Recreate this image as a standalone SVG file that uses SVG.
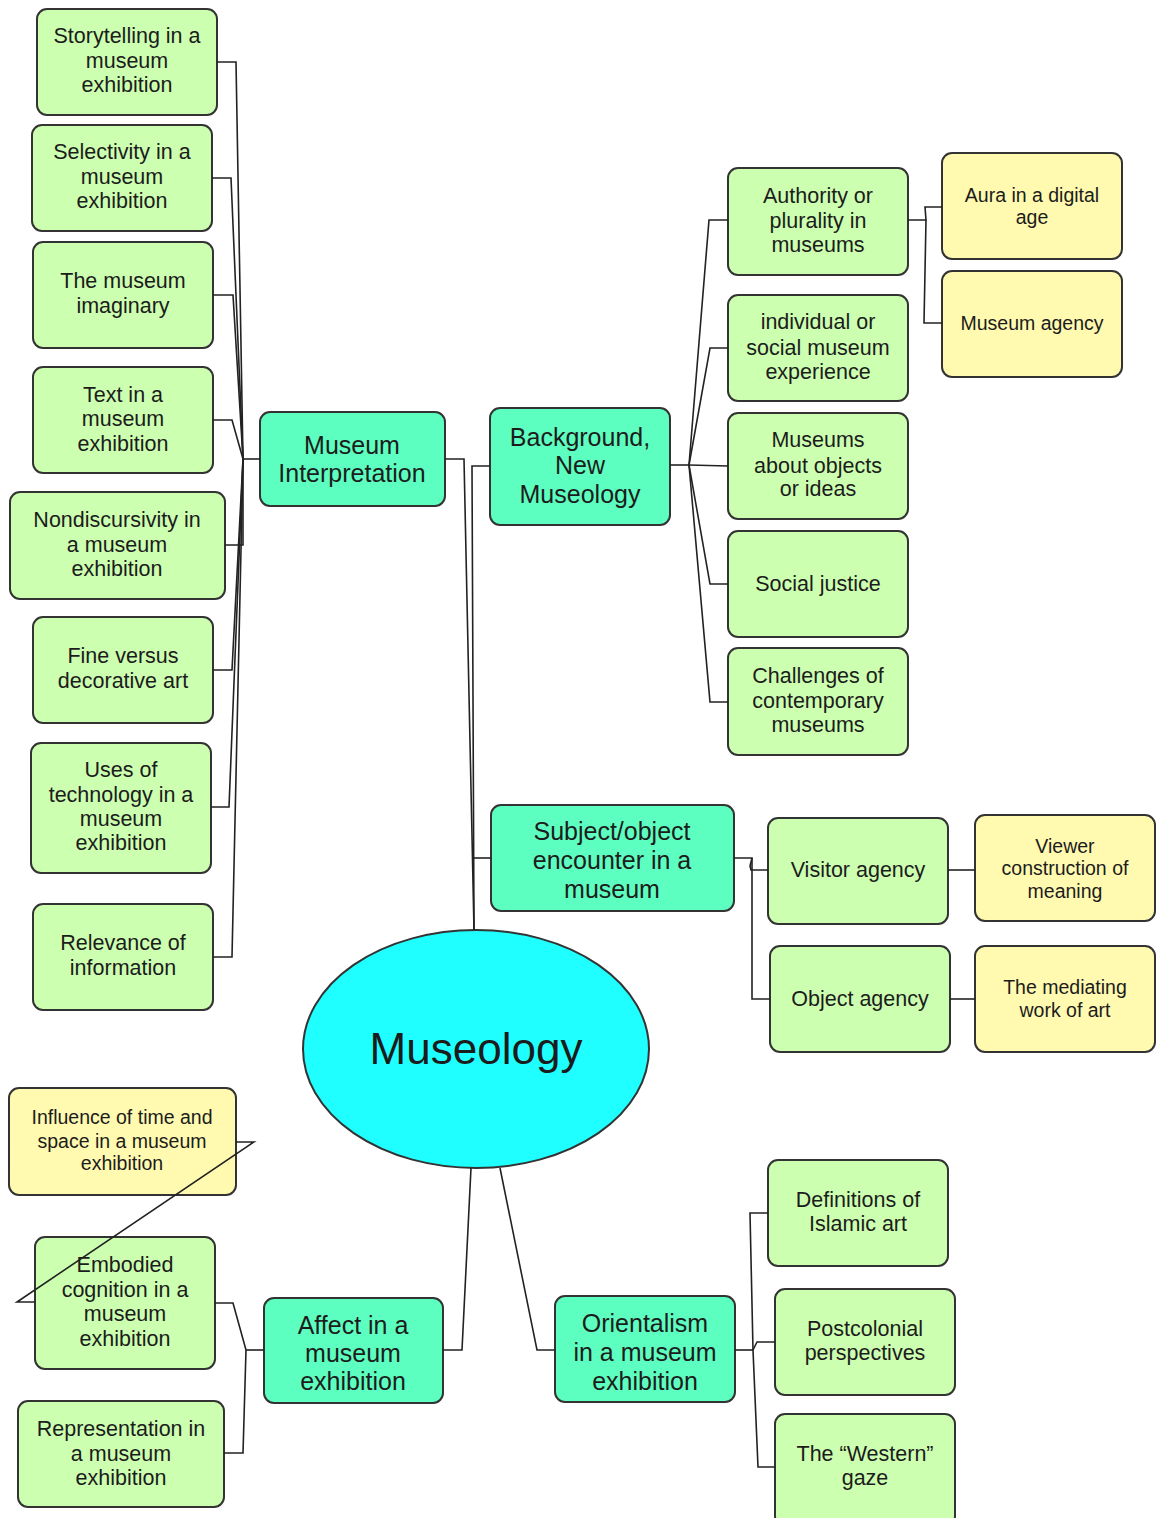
<svg xmlns="http://www.w3.org/2000/svg" width="1157" height="1518" viewBox="0 0 1157 1518">
  <style>
    .sub rect { fill: #ccffb0; stroke: #333; stroke-width: 2; }
    .topic rect { fill: #5cffbf; stroke: #333; stroke-width: 2; }
    .leaf rect { fill: #fffab0; stroke: #333; stroke-width: 2; }
    text { font-family: "Liberation Sans", Arial, Helvetica, sans-serif; fill: #1c1c1c; text-anchor: middle; }
    .sub text { font-size: 21.5px; }
    .leaf text { font-size: 19.5px; }
    .topic text { font-size: 25px; }
    .links polyline { fill: none; stroke: #222; stroke-width: 1.6; stroke-linejoin: miter; }
  </style>

  <!-- centre -->
  <g id="museology">
    <ellipse cx="476" cy="1049" rx="173" ry="119" fill="#1fffff" stroke="#333" stroke-width="2"/>
    <text x="476" y="1064" font-size="44">Museology</text>
  </g>

  <!-- Museum Interpretation branch -->
  <g id="museum-interpretation" class="topic">
    <rect x="260" y="412" width="185" height="94" rx="10"/>
    <text x="352"><tspan x="352" y="454">Museum</tspan><tspan x="352" y="482">Interpretation</tspan></text>
  </g>
  <g id="storytelling" class="sub">
    <rect x="37" y="9" width="180" height="106" rx="10"/>
    <text><tspan x="127" y="43">Storytelling in a</tspan><tspan x="127" y="68">museum</tspan><tspan x="127" y="92">exhibition</tspan></text>
  </g>
  <g id="selectivity" class="sub">
    <rect x="32" y="125" width="180" height="106" rx="10"/>
    <text><tspan x="122" y="159">Selectivity in a</tspan><tspan x="122" y="184">museum</tspan><tspan x="122" y="208">exhibition</tspan></text>
  </g>
  <g id="museum-imaginary" class="sub">
    <rect x="33" y="242" width="180" height="106" rx="10"/>
    <text><tspan x="123" y="288">The museum</tspan><tspan x="123" y="313">imaginary</tspan></text>
  </g>
  <g id="text-in-exhibition" class="sub">
    <rect x="33" y="367" width="180" height="106" rx="10"/>
    <text><tspan x="123" y="402">Text in a</tspan><tspan x="123" y="426">museum</tspan><tspan x="123" y="451">exhibition</tspan></text>
  </g>
  <g id="nondiscursivity" class="sub">
    <rect x="10" y="492" width="215" height="107" rx="10"/>
    <text><tspan x="117" y="527">Nondiscursivity in</tspan><tspan x="117" y="552">a museum</tspan><tspan x="117" y="576">exhibition</tspan></text>
  </g>
  <g id="fine-decorative" class="sub">
    <rect x="33" y="617" width="180" height="106" rx="10"/>
    <text><tspan x="123" y="663">Fine versus</tspan><tspan x="123" y="688">decorative art</tspan></text>
  </g>
  <g id="technology" class="sub">
    <rect x="31" y="743" width="180" height="130" rx="10"/>
    <text><tspan x="121" y="777">Uses of</tspan><tspan x="121" y="802">technology in a</tspan><tspan x="121" y="826">museum</tspan><tspan x="121" y="850">exhibition</tspan></text>
  </g>
  <g id="relevance" class="sub">
    <rect x="33" y="904" width="180" height="106" rx="10"/>
    <text><tspan x="123" y="950">Relevance of</tspan><tspan x="123" y="975">information</tspan></text>
  </g>

  <!-- Background, New Museology branch -->
  <g id="new-museology" class="topic">
    <rect x="490" y="408" width="180" height="117" rx="10"/>
    <text><tspan x="580" y="446">Background,</tspan><tspan x="580" y="474">New</tspan><tspan x="580" y="503">Museology</tspan></text>
  </g>
  <g id="authority" class="sub">
    <rect x="728" y="168" width="180" height="107" rx="10"/>
    <text><tspan x="818" y="203">Authority or</tspan><tspan x="818" y="228">plurality in</tspan><tspan x="818" y="252">museums</tspan></text>
  </g>
  <g id="experience" class="sub">
    <rect x="728" y="295" width="180" height="106" rx="10"/>
    <text><tspan x="818" y="329">individual or</tspan><tspan x="818" y="355">social museum</tspan><tspan x="818" y="379">experience</tspan></text>
  </g>
  <g id="objects-ideas" class="sub">
    <rect x="728" y="413" width="180" height="106" rx="10"/>
    <text><tspan x="818" y="447">Museums</tspan><tspan x="818" y="473">about objects</tspan><tspan x="818" y="496">or ideas</tspan></text>
  </g>
  <g id="social-justice" class="sub">
    <rect x="728" y="531" width="180" height="106" rx="10"/>
    <text x="818" y="591">Social justice</text>
  </g>
  <g id="challenges" class="sub">
    <rect x="728" y="648" width="180" height="107" rx="10"/>
    <text><tspan x="818" y="683">Challenges of</tspan><tspan x="818" y="708">contemporary</tspan><tspan x="818" y="732">museums</tspan></text>
  </g>
  <g id="aura" class="leaf">
    <rect x="942" y="153" width="180" height="106" rx="10"/>
    <text><tspan x="1032" y="202">Aura in a digital</tspan><tspan x="1032" y="224">age</tspan></text>
  </g>
  <g id="museum-agency" class="leaf">
    <rect x="942" y="271" width="180" height="106" rx="10"/>
    <text x="1032" y="330">Museum agency</text>
  </g>

  <!-- Subject/object branch -->
  <g id="subject-object" class="topic">
    <rect x="491" y="805" width="243" height="106" rx="10"/>
    <text><tspan x="612" y="840">Subject/object</tspan><tspan x="612" y="869">encounter in a</tspan><tspan x="612" y="898">museum</tspan></text>
  </g>
  <g id="visitor-agency" class="sub">
    <rect x="768" y="818" width="180" height="106" rx="10"/>
    <text x="858" y="877">Visitor agency</text>
  </g>
  <g id="object-agency" class="sub">
    <rect x="770" y="946" width="180" height="106" rx="10"/>
    <text x="860" y="1006">Object agency</text>
  </g>
  <g id="viewer-meaning" class="leaf">
    <rect x="975" y="815" width="180" height="106" rx="10"/>
    <text><tspan x="1065" y="853">Viewer</tspan><tspan x="1065" y="875">construction of</tspan><tspan x="1065" y="898">meaning</tspan></text>
  </g>
  <g id="mediating-work" class="leaf">
    <rect x="975" y="946" width="180" height="106" rx="10"/>
    <text><tspan x="1065" y="994">The mediating</tspan><tspan x="1065" y="1017">work of art</tspan></text>
  </g>

  <!-- Affect branch -->
  <g id="affect" class="topic">
    <rect x="264" y="1298" width="179" height="105" rx="10"/>
    <text><tspan x="353" y="1334">Affect in a</tspan><tspan x="353" y="1362">museum</tspan><tspan x="353" y="1390">exhibition</tspan></text>
  </g>
  <g id="time-space" class="leaf">
    <rect x="9" y="1088" width="227" height="107" rx="10"/>
    <text><tspan x="122" y="1124">Influence of time and</tspan><tspan x="122" y="1148">space in a museum</tspan><tspan x="122" y="1170">exhibition</tspan></text>
  </g>
  <g id="embodied" class="sub">
    <rect x="35" y="1237" width="180" height="132" rx="10"/>
    <text><tspan x="125" y="1272">Embodied</tspan><tspan x="125" y="1297">cognition in a</tspan><tspan x="125" y="1321">museum</tspan><tspan x="125" y="1346">exhibition</tspan></text>
  </g>
  <g id="representation" class="sub">
    <rect x="18" y="1401" width="206" height="106" rx="10"/>
    <text><tspan x="121" y="1436">Representation in</tspan><tspan x="121" y="1461">a museum</tspan><tspan x="121" y="1485">exhibition</tspan></text>
  </g>

  <!-- Orientalism branch -->
  <g id="orientalism" class="topic">
    <rect x="555" y="1296" width="180" height="106" rx="10"/>
    <text><tspan x="645" y="1332">Orientalism</tspan><tspan x="645" y="1361">in a museum</tspan><tspan x="645" y="1390">exhibition</tspan></text>
  </g>
  <g id="islamic-art" class="sub">
    <rect x="768" y="1160" width="180" height="106" rx="10"/>
    <text><tspan x="858" y="1207">Definitions of</tspan><tspan x="858" y="1231">Islamic art</tspan></text>
  </g>
  <g id="postcolonial" class="sub">
    <rect x="775" y="1289" width="180" height="106" rx="10"/>
    <text><tspan x="865" y="1336">Postcolonial</tspan><tspan x="865" y="1360">perspectives</tspan></text>
  </g>
  <g id="western-gaze" class="sub">
    <rect x="775" y="1414" width="180" height="112" rx="10"/>
    <text><tspan x="865" y="1461">The “Western”</tspan><tspan x="865" y="1485">gaze</tspan></text>
  </g>

  <!-- connectors, painted above the nodes -->
  <g class="links" id="connectors">
    <!-- Museum Interpretation fan -->
    <polyline points="260,459 243,459"/>
    <polyline points="243,459 236,62 217,62"/>
    <polyline points="243,459 231,178 212,178"/>
    <polyline points="243,459 233,295 213,295"/>
    <polyline points="243,459 232,420 213,420"/>
    <polyline points="243,459 243,545 225,545"/>
    <polyline points="243,459 232,670 213,670"/>
    <polyline points="243,459 229,807 211,807"/>
    <polyline points="243,459 232,957 213,957"/>
    <!-- trunk to the centre -->
    <polyline points="445,459 464,459 474,930"/>
    <polyline points="490,466 472,466 474,930"/>
    <polyline points="491,858 473,858"/>
    <!-- Background, New Museology fan -->
    <polyline points="670,465 689,465"/>
    <polyline points="689,465 709,220 728,220"/>
    <polyline points="689,465 710,348 728,348"/>
    <polyline points="689,465 728,466"/>
    <polyline points="689,465 710,584 728,584"/>
    <polyline points="689,465 710,702 728,702"/>
    <polyline points="908,220 926,220 925,207 942,207"/>
    <polyline points="926,220 924,323 942,323"/>
    <!-- Subject/object fan -->
    <polyline points="734,858 752,858 752,999 770,999"/>
    <polyline points="752,858 750,866 751,870 768,870"/>
    <polyline points="948,870 975,870"/>
    <polyline points="950,999 975,999"/>
    <!-- lower branches -->
    <polyline points="471,1168 462,1350 443,1350"/>
    <polyline points="500,1168 537,1350 555,1350"/>
    <polyline points="264,1350 246,1350"/>
    <polyline points="246,1350 233,1303 215,1303"/>
    <polyline points="246,1350 243,1453 224,1453"/>
    <polyline points="236,1142 254,1142 17,1302 35,1302"/>
    <polyline points="735,1350 753,1350"/>
    <polyline points="753,1350 750,1213 768,1213"/>
    <polyline points="753,1350 757,1342 775,1342"/>
    <polyline points="753,1350 758,1467 775,1467"/>
  </g>
</svg>
